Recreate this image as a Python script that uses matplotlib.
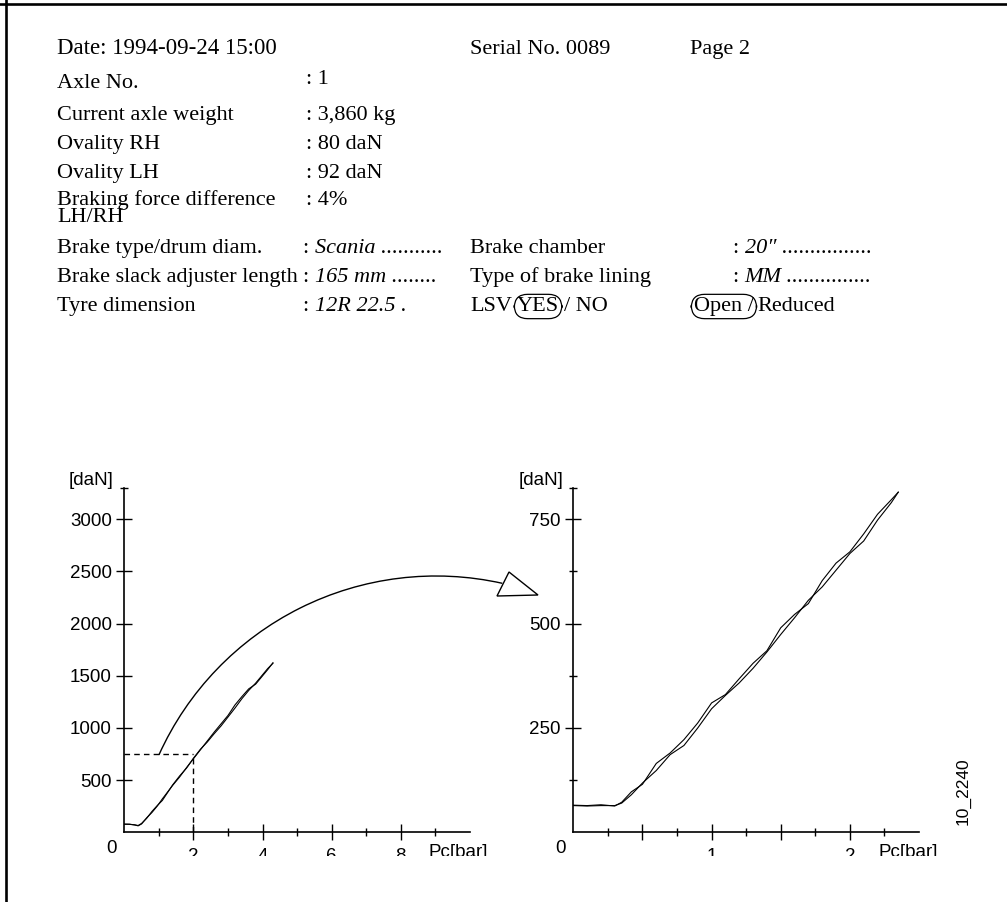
import matplotlib
matplotlib.use("Agg")
import matplotlib.pyplot as plt
from matplotlib.patches import Arc, Polygon, Rectangle
from matplotlib.lines import Line2D
from matplotlib.transforms import IdentityTransform
from matplotlib.ticker import FixedLocator, NullFormatter

W, H, DPI = 1007, 902, 100
SERIF = ["Liberation Serif", "DejaVu Serif"]
SANS = ["Liberation Sans", "DejaVu Sans"]
plt.rcParams["font.family"] = SANS

# ---- report header ----
date_text = "Date: 1994-09-24 15:00"
serial_text = "Serial No. 0089"
page_text = "Page 2"
field_labels = ["Axle No.", "Current axle weight", "Ovality RH", "Ovality LH",
                "Braking force difference\nLH/RH"]
field_values = ["1", "3,860 kg", "80 daN", "92 daN", "4%"]
spec_labels = ["Brake type/drum diam.", "Brake slack adjuster length", "Tyre dimension"]
spec_values = ["Scania ...........", "165 mm ........", "12R 22.5 ."]
part_labels = ["Brake chamber", "Type of brake lining"]
part_values = ["20\u2033 ................", "MM ..............."]
lsv_options = ["YES", "/ NO"]
spring_options = ["Open /", "Reduced"]

# ---- braking force vs. control pressure, full range ----
overview_p = [0, 0.15, 0.3, 0.4, 0.5, 0.65, 0.8, 0.95, 1.1, 1.25, 1.4, 1.6, 1.8,
              2.0, 2.2, 2.4, 2.6, 2.8, 3.0, 3.2, 3.4, 3.6, 3.8, 4.0, 4.15, 4.3]
overview_f1 = [78, 78, 70, 62, 80, 140, 190, 250, 320, 385, 450, 530, 620,
               705, 790, 875, 960, 1040, 1120, 1220, 1300, 1375, 1420, 1500, 1560, 1625]
overview_f2 = [78, 76, 72, 65, 85, 135, 200, 255, 305, 380, 455, 540, 615,
               710, 795, 865, 945, 1020, 1105, 1190, 1280, 1360, 1430, 1510, 1570, 1620]
overview_xticks = [2, 4, 6, 8]
overview_xminor = [1, 3, 5, 7, 9]
overview_yticks = [500, 1000, 1500, 2000, 2500, 3000]
overview_xlim, overview_ylim = 10, 3300
read_p, read_f = 2, 750

# ---- braking force vs. control pressure, low range ----
detail_p = [0, 0.1, 0.2, 0.3, 0.35, 0.42, 0.5, 0.6, 0.7, 0.8, 0.9, 1.0, 1.1,
            1.2, 1.3, 1.4, 1.5, 1.6, 1.7, 1.8, 1.9, 2.0, 2.1, 2.2, 2.3, 2.35]
detail_f1 = [65, 64, 66, 63, 72, 97, 115, 165, 190, 222, 262, 310, 330,
             368, 405, 435, 490, 522, 548, 603, 645, 672, 715, 762, 797, 815]
detail_f2 = [64, 63, 64, 64, 70, 90, 118, 148, 186, 208, 250, 296, 328,
             358, 393, 432, 474, 514, 556, 588, 628, 668, 698, 748, 790, 815]
detail_xticks = [0.5, 1, 1.5, 2]
detail_xlabels = ["", "1", "", "2"]
detail_xminor = [0.25, 0.75, 1.25, 1.75, 2.25]
detail_yticks = [250, 500, 750]
detail_yminor = [125, 375, 625]
detail_xlim, detail_ylim = 2.5, 825

fig = plt.figure(figsize=(W / DPI, H / DPI), dpi=DPI)
renderer = fig.canvas.get_renderer()


def fx(x):
    return x / W


def fy(y):
    return 1 - y / H


def put_runs(x, y, parts, size=16):
    """Write consecutive text pieces on one baseline (pixel coords, y down)."""
    for text, style, boxed, gap in parts:
        kw = {}
        if boxed:
            kw["bbox"] = dict(boxstyle="round,pad=0.12,rounding_size=0.6",
                              fc="none", ec="black", lw=0.9)
        t = fig.text(fx(x), fy(y), text, fontsize=size, family=SERIF,
                     style=style, ha="left", va="baseline", **kw)
        x += t.get_window_extent(renderer).width + gap


# header lines
put_runs(57, 54, [(date_text, "normal", False, 0)], size=16.5)
put_runs(470, 54, [(serial_text, "normal", False, 0)])
put_runs(690, 54, [(page_text, "normal", False, 0)])

field_base = [88, 120, 149, 178, 205]
value_base = [84, 120, 149, 178, 205]
for lab, val, yb, yv in zip(field_labels, field_values, field_base, value_base):
    for k, line in enumerate(lab.split("\n")):
        put_runs(57, yb + 17 * k, [(line, "normal", False, 0)])
    put_runs(306, yv, [(": " + val, "normal", False, 0)])

spec_base = [253, 282, 311]
for lab, val, yb in zip(spec_labels, spec_values, spec_base):
    put_runs(57, yb, [(lab, "normal", False, 0)])
    put_runs(303, yb, [(": ", "normal", False, 0), (val, "italic", False, 0)])

for lab, val, yb in zip(part_labels, part_values, spec_base[:2]):
    put_runs(470, yb, [(lab, "normal", False, 0)])
    put_runs(733, yb, [(": ", "normal", False, 0), (val, "italic", False, 0)])

put_runs(470, 311, [("LSV", "normal", False, 5),
                    (lsv_options[0], "normal", True, 5),
                    (lsv_options[1], "normal", False, 0)])
put_runs(694, 311, [(spring_options[0], "normal", True, 4),
                    (spring_options[1], "normal", False, 0)])

# ---- axes ----
bottom = (H - 832.3) / H
height = 344.3 / H
ax1 = fig.add_axes([124.3 / W, bottom, 345.7 / W, height])
ax2 = fig.add_axes([573.3 / W, bottom, 345.7 / W, height])

for ax in (ax1, ax2):
    ax.set_facecolor("none")
    for s in ("top", "right"):
        ax.spines[s].set_visible(False)
    for s in ("left", "bottom"):
        ax.spines[s].set_linewidth(1.2)
    ax.tick_params(which="major", direction="inout", length=12, width=1.0,
                   labelsize=13.5, color="black")
    ax.tick_params(which="minor", direction="inout", length=6, width=1.0)
    ax.tick_params(axis="x", which="major", pad=5.5)
    ax.tick_params(axis="y", which="major", pad=3)

# full-range chart
ax1.plot(overview_p, overview_f1, color="black", lw=0.8)
ax1.plot(overview_p, overview_f2, color="black", lw=0.8)
ax1.plot([0, read_p], [read_f, read_f], color="black", lw=1.0, ls=(0, (4, 3)))
ax1.plot([read_p, read_p], [0, read_f], color="black", lw=1.0, ls=(0, (4, 3)))
ax1.set_xlim(0, overview_xlim)
ax1.set_ylim(0, overview_ylim)
ax1.xaxis.set_major_locator(FixedLocator(overview_xticks))
ax1.xaxis.set_minor_locator(FixedLocator(overview_xminor))
ax1.yaxis.set_major_locator(FixedLocator(overview_yticks))
ax1.yaxis.set_minor_locator(FixedLocator([overview_ylim]))
ax1.yaxis.set_minor_formatter(NullFormatter())

# low-range chart
ax2.plot(detail_p, detail_f1, color="black", lw=0.8)
ax2.plot(detail_p, detail_f2, color="black", lw=0.8)
ax2.set_xlim(0, detail_xlim)
ax2.set_ylim(0, detail_ylim)
ax2.xaxis.set_major_locator(FixedLocator(detail_xticks))
ax2.set_xticklabels(detail_xlabels)
ax2.xaxis.set_minor_locator(FixedLocator(detail_xminor))
ax2.yaxis.set_major_locator(FixedLocator(detail_yticks))
ax2.yaxis.set_minor_locator(FixedLocator(detail_yminor + [detail_ylim]))
ax2.yaxis.set_minor_formatter(NullFormatter())

# unit and origin labels
for xr, xo, xp in ((113, 111.5, 429), (563, 561, 878)):
    fig.text(fx(xr), fy(489), "[daN]", fontsize=13.5, ha="right", va="bottom")
    fig.text(fx(xo), fy(848.5), "0", fontsize=13.5, ha="center", va="center")
    fig.text(fx(xp), fy(844), "Pc[bar]", fontsize=13.5, ha="left", va="top")

fig.text(fx(963), fy(791), "10_2240", fontsize=12.5, rotation=90,
         ha="center", va="center")

# zoom arrow from the full-range chart to the detail chart
arc = Arc((436, H - 880), 608, 608, theta1=77.4, theta2=155.7,
          transform=IdentityTransform(), color="black", lw=1.0)
fig.add_artist(arc)
head = Polygon([(509, H - 572), (538, H - 595), (497, H - 596)], closed=True,
               fc="white", ec="black", lw=1.0, transform=IdentityTransform())
fig.add_artist(head)

# page cut-off below the axis labels
fig.add_artist(Rectangle((15, 0), W, H - 856, transform=IdentityTransform(),
                         fc="white", ec="none", zorder=20))

# page frame edges
fig.add_artist(Line2D([0, W], [H - 3.5, H - 3.5], transform=IdentityTransform(),
                      color="black", lw=1.9))
fig.add_artist(Line2D([6, 6], [0, H], transform=IdentityTransform(),
                      color="black", lw=1.9))

fig.savefig("out.png", dpi=DPI)
